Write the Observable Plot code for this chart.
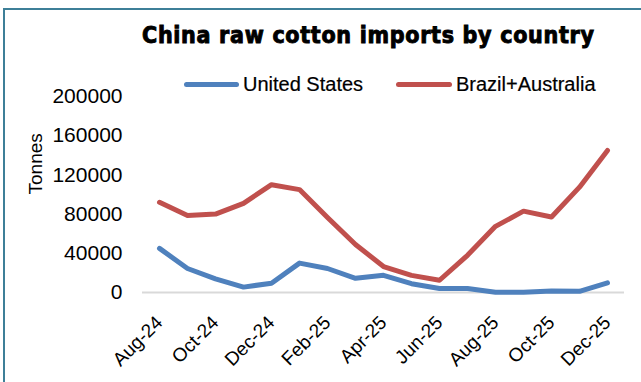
<!DOCTYPE html>
<html><head><meta charset="utf-8">
<script src="https://cdn.jsdelivr.net/npm/d3@7"></script>
<script src="https://cdn.jsdelivr.net/npm/@observablehq/plot@0.6"></script>
<style>
body{margin:0;background:#fff;}
#wrap{position:relative;width:641px;height:382px;overflow:hidden;font-family:"Liberation Sans",Arial,sans-serif;color:#000;}
#frame{position:absolute;left:3px;top:8px;width:700px;height:400px;border-left:2px solid #3d7f98;border-top:2px solid #3d7f98;}
#title{position:absolute;left:142px;top:21px;font-family:"DejaVu Sans Condensed","DejaVu Sans",sans-serif;font-weight:bold;font-stretch:condensed;font-size:23px;letter-spacing:0.7px;line-height:28px;white-space:nowrap;-webkit-text-stroke:0.9px #000;}
.lg{position:absolute;top:73px;height:22px;line-height:22px;font-size:20px;white-space:nowrap;-webkit-text-stroke:0.2px #000;}
.sw{position:absolute;height:5px;border-radius:3px;top:82px;}
#chart{position:absolute;left:0;top:0;}
</style></head>
<body>
<div id="wrap">
  <div id="frame"></div>
  <div id="chart"></div>
  <div id="title">China raw cotton imports by country</div>
  <div class="sw" id="sw1"></div><div class="lg" id="lg1"></div>
  <div class="sw" id="sw2"></div><div class="lg" id="lg2"></div>
</div>
<script>
const months = ["Aug-24","Sep-24","Oct-24","Nov-24","Dec-24","Jan-25","Feb-25","Mar-25","Apr-25","May-25","Jun-25","Jul-25","Aug-25","Sep-25","Oct-25","Nov-25","Dec-25"];
const unitedStates = [45000,24500,14000,5500,9500,30000,24500,14500,17500,9000,4000,4000,300,300,1600,1200,9800];
const brazilAustralia = [92000,78500,80000,91000,110000,105000,76500,49000,26500,17500,12500,38000,67500,83000,77000,107500,145000];
const seriesNames = ["United States","Brazil+Australia"];
const seriesColors = ["#4f81bd","#c0504d"];
const xTickLabels = ["Aug-24","Oct-24","Dec-24","Feb-25","Apr-25","Jun-25","Aug-25","Oct-25","Dec-25"];
const yTickValues = [0,40000,80000,120000,160000,200000];
const yLabel = "Tonnes";

const rows = [];
months.forEach((m,i)=>{
  rows.push({month:m, series:seriesNames[0], value:unitedStates[i]});
  rows.push({month:m, series:seriesNames[1], value:brazilAustralia[i]});
});

const chart = Plot.plot({
  width:641, height:382,
  marginTop:96, marginBottom:90, marginLeft:142, marginRight:17,
  style:{fontFamily:"Liberation Sans, Arial, sans-serif", color:"#000", background:"transparent", overflow:"visible"},
  x:{type:"point", domain:months, padding:0.5},
  y:{domain:[0,200000]},
  color:{domain:seriesNames, range:seriesColors},
  marks:[
    Plot.ruleY([0],{stroke:"#d9d9d9", strokeWidth:2}),
    Plot.axisY({ticks:yTickValues, tickSize:0, tickPadding:20, tickFormat:d=>String(d), label:null, fontSize:21}),
    Plot.axisX({ticks:xTickLabels, tickSize:0, tickRotate:-45, tickPadding:27, dx:0, label:null, fontSize:19}),
    Plot.text([yLabel],{frameAnchor:"left", dx:-107, rotate:-90, fontSize:19, text:d=>d, fill:"#000"}),
    Plot.line(rows,{x:"month", y:"value", z:"series", stroke:"series", strokeWidth:5, strokeLinecap:"round", strokeLinejoin:"round"})
  ]
});
document.getElementById("chart").appendChild(chart);

const sw = [["sw1","lg1",184,55,243],["sw2","lg2",396,56,456]];
sw.forEach(([s,l,x,w,tx],i)=>{
  const e=document.getElementById(s); e.style.left=x+"px"; e.style.width=w+"px"; e.style.background=seriesColors[i];
  const t=document.getElementById(l); t.style.left=tx+"px"; t.textContent=seriesNames[i];
});
</script>
</body></html>
